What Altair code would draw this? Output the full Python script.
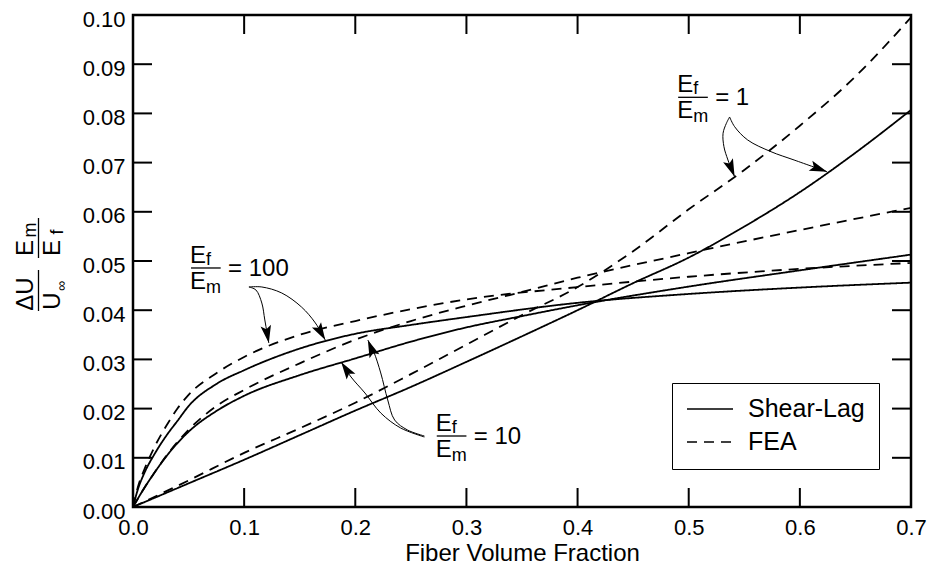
import altair as alt
import pandas as pd

FONT = "Liberation Sans"

# ---------------- data ----------------
x_ratio1 = [0, 0.05, 0.1, 0.15, 0.2, 0.25, 0.3, 0.35, 0.4, 0.45, 0.5, 0.55, 0.6, 0.65, 0.7]
y_ratio1_fea = [0, 0.0054, 0.0110, 0.0160, 0.0212, 0.0270, 0.0330, 0.0390, 0.0447, 0.0520,
                0.0605, 0.0685, 0.0775, 0.0875, 0.0995]
y_ratio1_sl = [0, 0.0048, 0.0096, 0.0146, 0.0196, 0.0244, 0.0295, 0.0347, 0.0400, 0.0455,
               0.0507, 0.0570, 0.0640, 0.0720, 0.0807]

x_ratio10 = [0, 0.01, 0.02, 0.03, 0.05, 0.075, 0.1, 0.15, 0.2, 0.25, 0.3, 0.35, 0.4, 0.5, 0.6, 0.7]
y_ratio10_fea = [0, 0.0038, 0.0072, 0.0104, 0.0157, 0.0205, 0.0238, 0.0292, 0.0340, 0.0378,
                 0.0409, 0.0437, 0.0466, 0.0516, 0.0563, 0.0608]
y_ratio10_sl = [0, 0.0038, 0.0072, 0.0103, 0.0153, 0.0195, 0.0226, 0.0268, 0.0302, 0.0336,
                0.0365, 0.0388, 0.0410, 0.0448, 0.0481, 0.0513]

x_ratio100 = [0, 0.005, 0.01, 0.02, 0.03, 0.04, 0.05, 0.075, 0.1, 0.15, 0.2, 0.25, 0.3, 0.4, 0.5, 0.6, 0.7]
y_ratio100_fea = [0, 0.0045, 0.0075, 0.0125, 0.0165, 0.0200, 0.0228, 0.0272, 0.0305, 0.0350,
                  0.0378, 0.0402, 0.0422, 0.0447, 0.0468, 0.0484, 0.0496]
y_ratio100_sl = [0, 0.0040, 0.0068, 0.0110, 0.0145, 0.0175, 0.0205, 0.0250, 0.0278, 0.0322,
                 0.0352, 0.0370, 0.0386, 0.0415, 0.0433, 0.0446, 0.0456]

methods = ["Shear-Lag", "FEA"]
x_labels = [0.0, 0.1, 0.2, 0.3, 0.4, 0.5, 0.6, 0.7]
y_labels = [0.0, 0.01, 0.02, 0.03, 0.04, 0.05, 0.06, 0.07, 0.08, 0.09, 0.1]
x_inner_ticks = [0.1, 0.2, 0.3, 0.4, 0.5, 0.6]
y_inner_ticks = [0.01, 0.02, 0.03, 0.04, 0.05, 0.06, 0.07, 0.08, 0.09]

# annotation labels (Ef/Em = ...), fraction bar ends in data units
ann_value = ["100", "10", "1"]
ann_bar_x0 = [0.0522, 0.2733, 0.4905]
ann_bar_x1 = [0.0789, 0.3000, 0.5172]
ann_bar_y = [0.04858, 0.01443, 0.08327]

# annotation arrows (curved leader lines) in data units
arrow_paths = {
    "a100_fea": ([0.1043, 0.1106, 0.1159, 0.1186, 0.1222],
                 [0.04472, 0.04411, 0.04146, 0.03801, 0.03333]),
    "a100_sl": ([0.1043, 0.1159, 0.1338, 0.1516, 0.1641, 0.1730],
                [0.04472, 0.04472, 0.04350, 0.04065, 0.03740, 0.03394]),
    "a10_fea": ([0.2622, 0.2470, 0.2354, 0.2292, 0.2229, 0.2167, 0.2113],
                [0.01443, 0.01565, 0.01768, 0.02175, 0.02724, 0.03150, 0.03394]),
    "a10_sl": ([0.2622, 0.2408, 0.2229, 0.2087, 0.1962, 0.1873],
               [0.01423, 0.01606, 0.01911, 0.02317, 0.02642, 0.02947]),
    "a1_fea": ([0.5368, 0.5339, 0.5309, 0.5317, 0.5353, 0.5413],
               [0.07927, 0.07799, 0.07595, 0.07323, 0.07053, 0.06714]),
    "a1_sl": ([0.5368, 0.5413, 0.5531, 0.5740, 0.5948, 0.6245],
              [0.07927, 0.07730, 0.07459, 0.07222, 0.07053, 0.06815]),
}
arrow_head_angle = {"a100_fea": 170, "a100_sl": 150, "a10_fea": 338,
                    "a10_sl": 326, "a1_fea": 158, "a1_sl": 110}

# ---------------- tables ----------------
rows = []
def add(name, method, xs, ys):
    for a, b in zip(xs, ys):
        rows.append({"x": a, "y": b, "curve": name, "method": method})

add("1-FEA", "FEA", x_ratio1, y_ratio1_fea)
add("1-SL", "Shear-Lag", x_ratio1, y_ratio1_sl)
add("10-FEA", "FEA", x_ratio10, y_ratio10_fea)
add("10-SL", "Shear-Lag", x_ratio10, y_ratio10_sl)
add("100-FEA", "FEA", x_ratio100, y_ratio100_fea)
add("100-SL", "Shear-Lag", x_ratio100, y_ratio100_sl)
curves_df = pd.DataFrame(rows)

arr_rows, head_rows = [], []
for k, (xs_, ys_) in arrow_paths.items():
    for i, (a, b) in enumerate(zip(xs_, ys_)):
        arr_rows.append({"x": a, "y": b, "arrow": k, "seq": i})
    head_rows.append({"x": xs_[-1], "y": ys_[-1], "ang": arrow_head_angle[k]})
arrows_df = pd.DataFrame(arr_rows)
heads_df = pd.DataFrame(head_rows)

ann_df = pd.DataFrame({"bx0": ann_bar_x0, "bx1": ann_bar_x1, "by": ann_bar_y,
                       "eq": ["= " + v for v in ann_value]})

W, H, TICK = 778, 492, 19
xs = alt.Scale(domain=[0, 0.7], nice=False, zero=False)
ys = alt.Scale(domain=[0, 0.1], nice=False, zero=False)
x_axis = alt.Axis(values=x_labels, format=".1f", title="Fiber Volume Fraction",
                  labelFlush=False, labelOverlap=False, labelPadding=10, titlePadding=3)
y_axis = alt.Axis(values=y_labels, format=".2f", title="", labelOffset=4,
                  labelFlush=False, labelOverlap=False, labelPadding=8)

def X(f):
    return alt.X(f, scale=xs, axis=x_axis)

def Y(f):
    return alt.Y(f, scale=ys, axis=y_axis)

curves = alt.Chart(curves_df).mark_line(color="black", strokeWidth=1.8, interpolate="monotone").encode(
    x=X("x:Q"),
    y=Y("y:Q"),
    detail="curve:N",
    strokeDash=alt.StrokeDash(
        "method:N",
        scale=alt.Scale(domain=methods, range=[[1, 0], [10, 7]]),
        legend=alt.Legend(title=None, orient="none", legendX=539, legendY=368,
                          symbolType="stroke", symbolSize=2116, symbolStrokeWidth=1.5,
                          symbolStrokeColor="black", clipHeight=24, rowPadding=8,
                          labelFont=FONT, labelFontSize=25, labelColor="black", labelOffset=14,
                          padding=14, strokeColor="black", fillColor="white"),
    ),
)

xt_df = pd.DataFrame({"v": x_inner_ticks})
yt_df = pd.DataFrame({"v": y_inner_ticks})
tick_bottom = alt.Chart(xt_df).mark_rule(color="black", strokeWidth=2).encode(
    x=X("v:Q"), y=alt.value(H), y2=alt.value(H - TICK))
tick_top = alt.Chart(xt_df).mark_rule(color="black", strokeWidth=2).encode(
    x=X("v:Q"), y=alt.value(0), y2=alt.value(TICK))
tick_left = alt.Chart(yt_df).mark_rule(color="black", strokeWidth=2).encode(
    y=Y("v:Q"), x=alt.value(0), x2=alt.value(TICK))
tick_right = alt.Chart(yt_df).mark_rule(color="black", strokeWidth=2).encode(
    y=Y("v:Q"), x=alt.value(W), x2=alt.value(W - TICK))

arrows = alt.Chart(arrows_df).mark_line(color="black", strokeWidth=1, interpolate="catmull-rom").encode(
    x=X("x:Q"), y=Y("y:Q"), detail="arrow:N", order="seq:Q")
heads = alt.Chart(heads_df).mark_point(shape="M0,0L0.6,2L0,1.6L-0.6,2Z", filled=True, size=310,
                                       color="black", opacity=1, strokeWidth=0).encode(
    x=X("x:Q"), y=Y("y:Q"), angle=alt.Angle("ang:Q", scale=None))

bars = alt.Chart(ann_df).mark_rule(color="black", strokeWidth=1.3).encode(
    x=X("bx0:Q"), x2="bx1:Q", y=Y("by:Q"))
def ann_text(txt, dx, dy, size):
    return alt.Chart(ann_df).mark_text(text=txt, align="left", baseline="alphabetic", dx=dx, dy=dy,
                                       fontSize=size, font=FONT, color="black").encode(
        x=X("bx0:Q"), y=Y("by:Q"))
num_E = ann_text("E", -1, -5, 24)
num_f = ann_text("f", 15, -3, 18)
den_E = ann_text("E", -1, 21, 24)
den_m = ann_text("m", 15, 25, 18)
eq = alt.Chart(ann_df).mark_text(align="left", baseline="alphabetic", dx=37, dy=8, fontSize=24,
                                 font=FONT, color="black").encode(
    x=X("bx0:Q"), y=Y("by:Q"), text="eq:N")

# y-axis title: (ΔU / U∞)(Em / Ef), rotated
one = alt.Data(values=[{}])
def ytxt(txt, x, y, size):
    return alt.Chart(one).mark_text(text=txt, angle=270, align="center", baseline="alphabetic",
                                    fontSize=size, font=FONT, color="black").encode(
        x=alt.value(x), y=alt.value(y))
def ybar(x, y0, y1):
    return alt.Chart(one).mark_rule(color="black", strokeWidth=1.3).encode(
        x=alt.value(x), y=alt.value(y0), y2=alt.value(y1))
yt = [
    ytxt("\u0394U", -100, 279, 24),
    ybar(-94.5, 255, 296),
    ytxt("U", -73, 286, 24),
    ytxt("\u221e", -67, 271, 14),
    ytxt("E", -100, 233, 24),
    ytxt("m", -97, 215, 18),
    ybar(-94.5, 203, 243),
    ytxt("E", -73, 233, 24),
    ytxt("f", -70, 217, 18),
]

chart = alt.layer(
    curves, tick_bottom, tick_top, tick_left, tick_right,
    arrows, heads, bars, num_E, num_f, den_E, den_m, eq, *yt
).properties(
    width=W, height=H,
    autosize=alt.AutoSizeParams(type="none"),
    padding={"left": 125, "top": 7, "right": 16, "bottom": 60},
).configure_view(
    stroke="black", strokeWidth=2.5
).configure_axis(
    domain=False, ticks=False, grid=False,
    labelFont=FONT, labelFontSize=22, labelColor="black",
    titleFont=FONT, titleFontSize=24, titleFontWeight="normal", titleColor="black",
)

chart.save("out.html", embed_options={"renderer": "svg", "actions": False})
